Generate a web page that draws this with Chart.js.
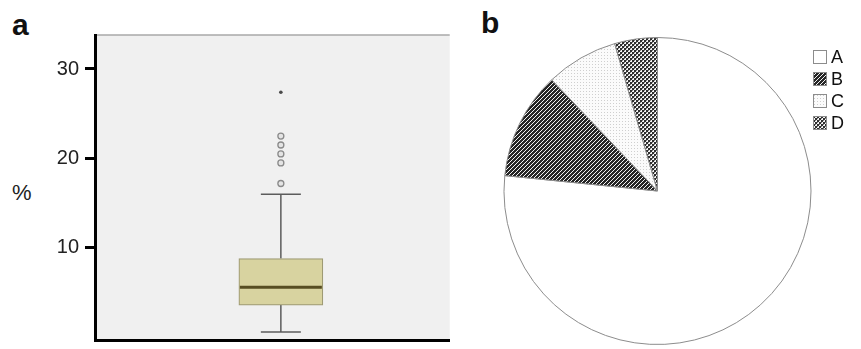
<!DOCTYPE html>
<html lang="en">
<head>
    <meta charset="UTF-8">
    <title>Box plot and pie</title>
    <script src="https://cdn.jsdelivr.net/npm/chart.js"></script>
    <style>
        body { margin: 0; background: #fff; font-family: "Liberation Sans", Arial, sans-serif; }
        #page { position: relative; width: 861px; height: 349px; overflow: hidden; }
        .panel { position: absolute; font-weight: bold; font-size: 30px; line-height: 30px; color: #111; }
        #boxWrap { position: absolute; left: 0; top: 0; width: 455px; height: 349px; }
        #pieWrap { position: absolute; left: 480px; top: 0; width: 381px; height: 349px; }
        #yTitle { position: absolute; left: 12px; top: 182px; font-size: 22px; line-height: 22px; color: #222; }
        #legend { position: absolute; left: 813px; top: 46px; }
        .item { display: flex; align-items: center; height: 22px; font-size: 18px; color: #111; }
        .item canvas { width: 14px; height: 14px; margin-right: 4px; }
    </style>
</head>
<body>
<div id="page">
    <div class="panel" style="left:12px; top:10px;">a</div>
    <div class="panel" style="left:481px; top:8px;">b</div>
    <div id="yTitle">%</div>
    <div id="boxWrap"><canvas id="boxChart"></canvas></div>
    <div id="pieWrap"><canvas id="pieChart"></canvas></div>
    <div id="legend"></div>
</div>

<script>
    // box plot (panel a)
    const yTicks = [10, 20, 30];
    const boxStats = { min: 0.6, q1: 3.6, median: 5.6, q3: 8.8, max: 16 };
    const outliers = [17.2, 19.5, 20.5, 21.5, 22.5];
    const extremes = [27.4];

    // pie (panel b)
    const pieLabels = ['A', 'B', 'C', 'D'];
    const pieValues = [76.6, 11.3, 7.6, 4.5];

    function makePattern(kind) {
        const c = document.createElement('canvas');
        const g = c.getContext('2d');
        if (kind === 'A') {
            c.width = c.height = 4;
            g.fillStyle = '#fff';
            g.fillRect(0, 0, 4, 4);
        } else if (kind === 'B') {
            c.width = c.height = 4;
            g.fillStyle = '#262626';
            g.fillRect(0, 0, 4, 4);
            g.strokeStyle = '#f2f2f2';
            g.lineWidth = 1;
            g.beginPath();
            g.moveTo(0, 4); g.lineTo(4, 0);
            g.moveTo(-1, 1); g.lineTo(1, -1);
            g.moveTo(3, 5); g.lineTo(5, 3);
            g.stroke();
        } else if (kind === 'C') {
            c.width = c.height = 3;
            g.fillStyle = '#fbfbfb';
            g.fillRect(0, 0, 3, 3);
            g.fillStyle = '#cfcfcf';
            g.fillRect(1, 1, 1, 1);
        } else {
            c.width = c.height = 4;
            g.fillStyle = '#f4f4f4';
            g.fillRect(0, 0, 4, 4);
            g.fillStyle = '#2e2e2e';
            g.fillRect(0, 0, 2, 2);
            g.fillRect(2, 2, 2, 2);
            g.fillStyle = '#7a7a7a';
            g.fillRect(2, 0, 1, 1);
            g.fillRect(0, 2, 1, 1);
        }
        return c;
    }

    const bgPlugin = {
        id: 'plotBg',
        beforeDraw(chart) {
            const { ctx, chartArea: a } = chart;
            ctx.save();
            ctx.fillStyle = '#f0f0f0';
            ctx.fillRect(a.left, a.top, a.right - a.left, a.bottom - a.top);
            ctx.strokeStyle = '#a8a8a8';
            ctx.lineWidth = 1.5;
            ctx.beginPath();
            ctx.moveTo(a.left, a.top);
            ctx.lineTo(a.right, a.top);
            ctx.stroke();
            ctx.restore();
        }
    };

    const whiskerPlugin = {
        id: 'whiskers',
        beforeDatasetsDraw(chart) {
            const { ctx, scales: { x, y } } = chart;
            const cx = x.getPixelForValue(1);
            ctx.save();
            ctx.strokeStyle = '#5c5c5c';
            ctx.lineWidth = 1.5;
            ctx.beginPath();
            ctx.moveTo(cx, y.getPixelForValue(boxStats.q3));
            ctx.lineTo(cx, y.getPixelForValue(boxStats.max));
            ctx.moveTo(cx, y.getPixelForValue(boxStats.q1));
            ctx.lineTo(cx, y.getPixelForValue(boxStats.min));
            [boxStats.max, boxStats.min].forEach(v => {
                ctx.moveTo(cx - 20, y.getPixelForValue(v));
                ctx.lineTo(cx + 20, y.getPixelForValue(v));
            });
            ctx.stroke();
            ctx.restore();
        },
        afterDatasetsDraw(chart) {
            const { ctx, scales: { x, y } } = chart;
            const cx = x.getPixelForValue(1);
            const ym = y.getPixelForValue(boxStats.median);
            ctx.save();
            ctx.strokeStyle = '#574d22';
            ctx.lineWidth = 3;
            ctx.beginPath();
            ctx.moveTo(cx - 41, ym);
            ctx.lineTo(cx + 41, ym);
            ctx.stroke();
            ctx.restore();
        }
    };

    new Chart(document.getElementById('boxChart'), {
        type: 'bar',
        data: {
            datasets: [{
                type: 'bar',
                data: [{ x: 1, y: [boxStats.q1, boxStats.q3] }],
                backgroundColor: '#d8d3a0',
                borderColor: '#9e9a74',
                borderWidth: 1.2,
                borderSkipped: false,
                barThickness: 84
            }, {
                type: 'scatter',
                data: outliers.map(v => ({ x: 1, y: v })),
                pointRadius: 3,
                pointBorderWidth: 1.3,
                pointBorderColor: '#8a8a8a',
                pointBackgroundColor: '#e4e4e4'
            }, {
                type: 'scatter',
                data: extremes.map(v => ({ x: 1, y: v })),
                pointRadius: 1.8,
                pointBorderWidth: 0,
                pointBackgroundColor: '#4a4a4a'
            }]
        },
        options: {
            responsive: true,
            maintainAspectRatio: false,
            animation: false,
            layout: { padding: { top: 35, right: 5, left: 0, bottom: 0 } },
            plugins: { legend: { display: false }, tooltip: { enabled: false } },
            scales: {
                x: {
                    type: 'linear',
                    min: -0.06,
                    max: 1.94,
                    ticks: { display: false },
                    grid: { display: false },
                    border: { display: true, color: '#000', width: 3 },
                    afterFit(scale) { scale.height = 9; scale.paddingLeft = 0; scale.paddingRight = 0; }
                },
                y: {
                    min: -0.3,
                    max: 33.8,
                    afterBuildTicks(scale) { scale.ticks = yTicks.map(v => ({ value: v })); },
                    ticks: {
                        color: '#222',
                        padding: 6,
                        font: { family: '"Liberation Sans", Arial, sans-serif', size: 20 }
                    },
                    grid: { drawOnChartArea: false, drawTicks: true, tickLength: 10, tickWidth: 3, tickColor: '#000' },
                    border: { display: true, color: '#000', width: 3 },
                    afterFit(scale) { scale.width = 95; scale.paddingTop = 0; scale.paddingBottom = 0; }
                }
            }
        },
        plugins: [bgPlugin, whiskerPlugin]
    });

    const patterns = pieLabels.map(l => makePattern(l));
    const pctx = document.getElementById('pieChart').getContext('2d');
    const fills = patterns.map(p => pctx.createPattern(p, 'repeat'));

    new Chart(pctx, {
        type: 'pie',
        data: {
            labels: pieLabels,
            datasets: [{
                data: pieValues,
                backgroundColor: fills,
                borderColor: '#8c8c8c',
                borderWidth: 1
            }]
        },
        options: {
            responsive: true,
            maintainAspectRatio: false,
            animation: false,
            layout: { padding: { top: 37, bottom: 4, left: 23, right: 49 } },
            plugins: { legend: { display: false }, tooltip: { enabled: false } }
        }
    });

    // legend with the same fills
    const legend = document.getElementById('legend');
    pieLabels.forEach((label, i) => {
        const row = document.createElement('div');
        row.className = 'item';
        const sw = document.createElement('canvas');
        sw.width = 14; sw.height = 14;
        const g = sw.getContext('2d');
        g.fillStyle = g.createPattern(patterns[i], 'repeat');
        g.fillRect(0, 0, 14, 14);
        g.strokeStyle = '#8c8c8c';
        g.lineWidth = 1;
        g.strokeRect(0.5, 0.5, 13, 13);
        row.appendChild(sw);
        row.appendChild(document.createTextNode(label));
        legend.appendChild(row);
    });
</script>
</body>
</html>
